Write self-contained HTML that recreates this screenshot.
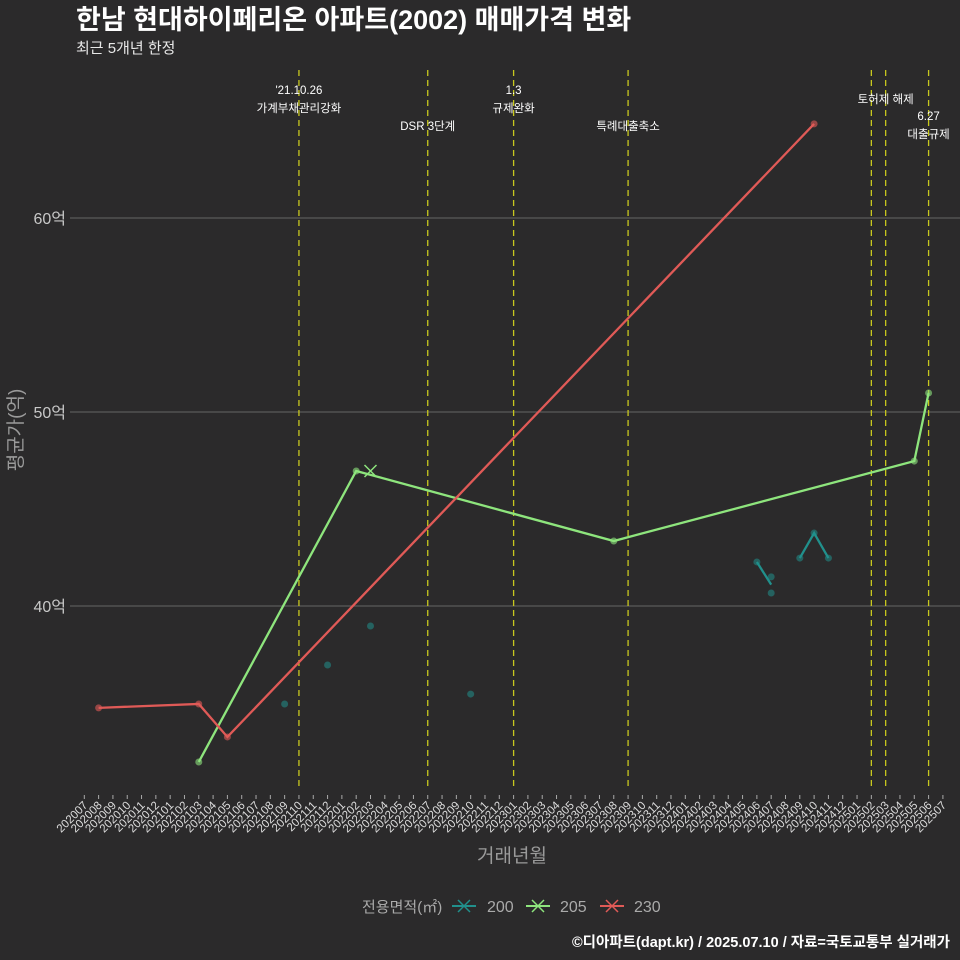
<!DOCTYPE html>
<html><head><meta charset="utf-8">
<style>
html,body{margin:0;padding:0;background:#2b2a2b;}
svg{display:block;font-family:"Liberation Sans","Noto Sans CJK KR",sans-serif;}
</style></head>
<body>
<svg id="chart" width="960" height="960" viewBox="0 0 960 960">
<rect width="960" height="960" fill="#2b2a2b"/>
<text x="76" y="29" fill="#ffffff" font-size="27" font-weight="bold">한남 현대하이페리온 아파트(2002) 매매가격 변화</text>
<text x="76" y="53" fill="#e8e8e8" font-size="15">최근 5개년 한정</text>
<g id="grid"></g>
<g id="vlines"></g>
<g id="series"></g>
<g id="xaxis"></g>
<text x="512" y="862" fill="#9a9a9a" font-size="19" text-anchor="middle">거래년월</text>
<text transform="translate(22,430) rotate(-90)" fill="#9a9a9a" font-size="19" text-anchor="middle">평균가(억)</text>
<g>
<text x="362" y="912" fill="#aaaaaa" font-size="15">전용면적(㎡)</text>
<g><line x1="452" y1="906" x2="476" y2="906" stroke="#21908c" stroke-width="2"/><path d="M458 900 L470 912 M470 900 L458 912" stroke="#21908c" stroke-width="1.5"/><text x="487" y="912" fill="#aaaaaa" font-size="16">200</text></g>
<g><line x1="526" y1="906" x2="550" y2="906" stroke="#8ee57d" stroke-width="2"/><path d="M532 900 L544 912 M544 900 L532 912" stroke="#8ee57d" stroke-width="1.5"/><text x="560" y="912" fill="#aaaaaa" font-size="16">205</text></g>
<g><line x1="600" y1="906" x2="624" y2="906" stroke="#e05a57" stroke-width="2"/><path d="M606 900 L618 912 M618 900 L606 912" stroke="#e05a57" stroke-width="1.5"/><text x="634" y="912" fill="#aaaaaa" font-size="16">230</text></g>
</g>
<text x="950" y="947" fill="#ffffff" font-size="14.5" font-weight="bold" text-anchor="end">©디아파트(dapt.kr) / 2025.07.10 / 자료=국토교통부 실거래가</text>
</svg>
<script>
const months = [];
for (let y = 2020; y <= 2025; y++) for (let m = 1; m <= 12; m++) {
  const k = y * 100 + m; if (k >= 202007 && k <= 202507) months.push(String(k));
}
const yTicks = [40, 50, 60];
const yTickLabels = ["40억", "50억", "60억"];
const eventMonths = ["202110", "202207", "202301", "202309", "202502", "202503", "202506"];
const eventLabels = [["'21.10.26", "가계부채관리강화"], ["DSR 3단계"], ["1.3", "규제완화"], ["특례대출축소"], [], ["토허제 해제"], ["6.27", "대출규제"]];
const eventLabelY = [94, 130, 94, 130, 0, 103, 120];
const s230Months = ["202008", "202103", "202105", "202410"];
const s230Values = [34.75, 34.95, 33.25, 64.85];
const s205Months = ["202103", "202202", "202308", "202505", "202506"];
const s205Values = [31.96, 46.96, 43.35, 47.47, 50.98];
const s200PointMonths = ["202109", "202112", "202203", "202210", "202406", "202407", "202407", "202409", "202410", "202411"];
const s200PointValues = [34.95, 36.96, 38.97, 35.46, 42.27, 41.5, 40.67, 42.47, 43.76, 42.47];
const s200LineA = { months: ["202406", "202407"], values: [42.27, 41.1] };
const s200LineB = { months: ["202409", "202410", "202411"], values: [42.47, 43.76, 42.47] };

const NS = "http://www.w3.org/2000/svg";
const x = m => 84.3 + months.indexOf(m) * 14.31;
const y = v => 218 + (60 - v) * 19.4;
function mk(tag, attrs, parent) {
  const e = document.createElementNS(NS, tag);
  for (const k in attrs) e.setAttribute(k, attrs[k]);
  parent.appendChild(e); return e;
}
const grid = document.getElementById('grid');
yTicks.forEach((t, i) => {
  const l = mk('line', { x1: 70, x2: 960, y1: y(t), y2: y(t), stroke: '#5a5a5a', 'stroke-width': 1.2 }, grid);
  
  
  const tx = mk('text', { x: 66, y: y(t) + 6, fill: '#c8c8c8', 'font-size': 16, 'text-anchor': 'end' }, grid);
  tx.textContent = yTickLabels[i];
  
  
});
const vl = document.getElementById('vlines');
eventMonths.forEach((m, i) => {
  const l = mk('line', { x1: x(m), x2: x(m), y1: 70, y2: 790, stroke: '#c8c81e', 'stroke-width': 1.3, 'stroke-dasharray': '6,4' }, vl);
  
  
  eventLabels[i].forEach((t, j) => {
    const tx = mk('text', { x: x(m), y: eventLabelY[i] + j * 18, fill: '#ffffff', 'font-size': 11.5, 'text-anchor': 'middle' }, vl);
    tx.textContent = t;
    
    
  });
});
const xa = document.getElementById('xaxis');
months.forEach(m => {
  const t = mk('line', { x1: x(m), x2: x(m), y1: 795, y2: 799, stroke: '#aaaaaa', 'stroke-width': 1 }, xa);
  
  
  const tx = mk('text', { x: x(m) + 4, y: 806, fill: '#dddddd', 'font-size': 11.5, 'text-anchor': 'end', transform: `rotate(-45 ${x(m) + 4} 806)` }, xa);
  tx.textContent = m;
  
  
});
const sg = document.getElementById('series');
function line(ms, vs, color, name) {
  const p = mk('polyline', { points: ms.map((m, i) => x(m) + ',' + y(vs[i])).join(' '), fill: 'none', stroke: color, 'stroke-width': 2.3 }, sg);
  
  
}
function pts(ms, vs, color, name, op) {
  ms.forEach((m, i) => {
    const c = mk('circle', { cx: x(m), cy: y(vs[i]), r: 3.5, fill: color, opacity: op }, sg);
    
    
  });
}
line(s200LineA.months, s200LineA.values, '#21908c', 'line-200-a');
line(s200LineB.months, s200LineB.values, '#21908c', 'line-200-b');
pts(s200PointMonths, s200PointValues, '#21908c', 'point-200', 0.55);
line(s205Months, s205Values, '#8ee57d', 'line-205');
pts(s205Months, s205Values, '#8ee57d', 'point-205', 0.6);
line(s230Months, s230Values, '#e05a57', 'line-230');
pts(s230Months, s230Values, '#e05a57', 'point-230', 0.6);
const mx = x("202203"), my = y(46.96);
const xm = mk('path', { d: `M${mx - 6} ${my - 6} L${mx + 6} ${my + 6} M${mx + 6} ${my - 6} L${mx - 6} ${my + 6}`, stroke: '#8ee57d', 'stroke-width': 1.5 }, sg);


</script>
</body></html>
